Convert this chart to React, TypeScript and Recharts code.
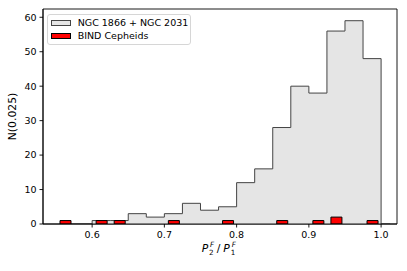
import React from 'react';
import { ComposedChart, Area, Bar, XAxis, YAxis, ReferenceArea } from 'recharts';

// bin centres (bin width 0.025), plus one trailing point to close the step
const binCenters = [0.5625, 0.5875, 0.6125, 0.6375, 0.6625, 0.6875, 0.7125, 0.7375, 0.7625, 0.7875, 0.8125, 0.8375, 0.8625, 0.8875, 0.9125, 0.9375, 0.9625, 0.9875, 1.0125];
const ngcCounts = [0, 0, 1, 1, 3, 2, 3, 6, 4, 5, 12, 16, 28, 40, 38, 56, 59, 48, 0];
const bindCounts = [1, 0, 1, 1, 0, 0, 1, 0, 0, 1, 0, 0, 1, 0, 1, 2, 0, 1, 0];
const xTicks = [0.6, 0.7, 0.8, 0.9, 1.0];
const yTicks = [0, 10, 20, 30, 40, 50, 60];
const seriesNames = ['NGC 1866 + NGC 2031', 'BIND Cepheids'];
const seriesFills = ['#e5e5e5', '#ff0000'];
const seriesEdges = ['#444444', '#000000'];

const data = binCenters.map((x, i) => ({ x, ngc: ngcCounts[i], bind: bindCounts[i] > 0 ? bindCounts[i] : null }));

const FONT = 'DejaVu Sans';
const X_DOMAIN: [number, number] = [0.532, 1.022];
const Y_DOMAIN: [number, number] = [0, 62.4];

const XLabel = (props: any) => {
  const vb = props.viewBox || {};
  const cx = vb.x + vb.width / 2;
  const x0 = cx - 18.3;
  const base = 252.3;
  const big = 10.8;
  const small = 7.2;
  return (
    <text fontFamily={FONT} fill="#000">
      <tspan x={x0} y={base} fontStyle="italic" fontSize={big}>P</tspan>
      <tspan x={x0 + 7.4} y={base + 3} fontSize={small}>2</tspan>
      <tspan x={x0 + 8.4} y={base - 5} fontStyle="italic" fontSize={small}>F</tspan>
      <tspan x={x0 + 15.1} y={base} fontSize={big}>/</tspan>
      <tspan x={x0 + 21.6} y={base} fontStyle="italic" fontSize={big}>P</tspan>
      <tspan x={x0 + 29.0} y={base + 3} fontSize={small}>1</tspan>
      <tspan x={x0 + 30.0} y={base - 5} fontStyle="italic" fontSize={small}>F</tspan>
    </text>
  );
};

const YLabel = (props: any) => {
  const vb = props.viewBox || {};
  const cy = vb.y + vb.height / 2;
  const cx = 16;
  return (
    <text x={cx} y={cy} transform={`rotate(-90, ${cx}, ${cy})`} textAnchor="middle" fontFamily={FONT} fontSize={10.8} fill="#000">
      N(0.025)
    </text>
  );
};

export default function App() {
  return (
    <div style={{ position: 'absolute', left: 0, top: 0, width: 407, height: 271, background: '#fff' }}>
      <ComposedChart width={407} height={271} data={data} margin={{ top: 9, right: 10, bottom: 0, left: 0 }}>
        <ReferenceArea x1={X_DOMAIN[0]} x2={X_DOMAIN[1]} y1={Y_DOMAIN[0]} y2={Y_DOMAIN[1]} fill="none" stroke="#000" strokeWidth={0.9} ifOverflow="visible" />
        <Area
          type="step"
          dataKey="ngc"
          fill={seriesFills[0]}
          fillOpacity={1}
          stroke={seriesEdges[0]}
          strokeWidth={1}
          dot={false}
          activeDot={false}
          isAnimationActive={false}
        />
        <Bar dataKey="bind" barSize={11} fill={seriesFills[1]} stroke={seriesEdges[1]} strokeWidth={1} isAnimationActive={false} />
        <XAxis
          dataKey="x"
          type="number"
          domain={X_DOMAIN}
          allowDataOverflow
          ticks={xTicks}
          tickFormatter={(v: number) => v.toFixed(1)}
          height={47}
          tickSize={3.5}
          tickMargin={3.5}
          axisLine={{ stroke: '#000', strokeWidth: 0.9 }}
          tickLine={{ stroke: '#000', strokeWidth: 0.9 }}
          tick={{ fontSize: 9.5, fill: '#000', fontFamily: FONT }}
          label={<XLabel />}
        />
        <YAxis
          type="number"
          domain={Y_DOMAIN}
          allowDataOverflow
          ticks={yTicks}
          width={43}
          tickSize={3.5}
          tickMargin={3}
          axisLine={{ stroke: '#000', strokeWidth: 0.9 }}
          tickLine={{ stroke: '#000', strokeWidth: 0.9 }}
          tick={{ fontSize: 9.5, fill: '#000', fontFamily: FONT }}
          label={<YLabel />}
        />
      </ComposedChart>
      <div
        style={{
          position: 'absolute',
          left: 47,
          top: 14,
          width: 144,
          height: 31,
          boxSizing: 'border-box',
          border: '1px solid #d6d6d6',
          borderRadius: 3,
          background: 'rgba(255,255,255,0.8)',
          fontFamily: FONT,
          fontSize: 9.5,
          color: '#000',
        }}
      >
        {seriesNames.map((name, i) => (
          <div key={name} style={{ position: 'absolute', left: 0, top: i === 0 ? 2 : 15, height: 12, width: 142, lineHeight: '12px', whiteSpace: 'nowrap' }}>
            <span
              style={{
                position: 'absolute',
                left: 3,
                top: 2.5,
                width: 19.5,
                height: 6.5,
                boxSizing: 'border-box',
                background: seriesFills[i],
                border: `1px solid ${seriesEdges[i]}`,
              }}
            />
            <span style={{ position: 'absolute', left: 29.7, top: 0 }}>{name}</span>
          </div>
        ))}
      </div>
    </div>
  );
}
